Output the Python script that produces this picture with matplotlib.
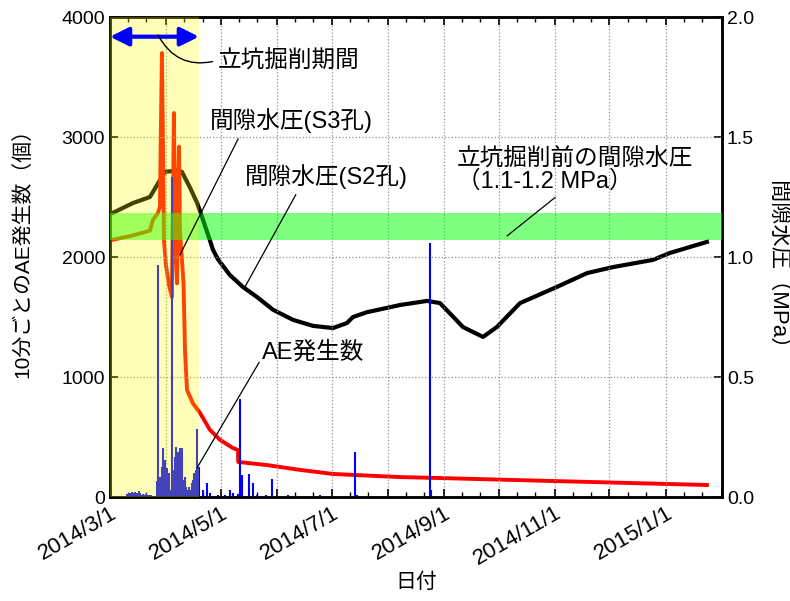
import numpy as np
import pandas as pd
import matplotlib
matplotlib.use('Agg')
import matplotlib.pyplot as plt
import matplotlib.dates as mdates
from matplotlib.ticker import FuncFormatter, MultipleLocator

plt.rcParams['font.family'] = ['Liberation Sans', 'Noto Sans CJK JP']

start = pd.Timestamp('2014-03-01')
end = pd.Timestamp('2015-02-01')

# pore pressure, borehole S2 (black) : days since 2014/3/1, MPa
s2_day = [0.5, 12.7, 22, 27.5, 30.3, 36.9, 39.6, 44, 48, 51.2, 55, 56.7, 59.5,
          66, 73.2, 81, 89.8, 100.8, 111.8, 122.8, 130.5, 133.8, 141.5, 152.5,
          159.7, 174.6, 181.7, 194.4, 205.4, 213, 225.8, 246, 262.7, 277, 299,
          308.4, 328.7]
s2_mpa = [1.18, 1.225, 1.25, 1.32, 1.355, 1.36, 1.355, 1.29, 1.225, 1.155, 1.07,
          1.03, 0.99, 0.925, 0.875, 0.833, 0.78, 0.738, 0.713, 0.704, 0.725, 0.75,
          0.77, 0.788, 0.80, 0.817, 0.808, 0.708, 0.667, 0.708, 0.808, 0.875,
          0.933, 0.958, 0.988, 1.017, 1.063]

# pore pressure, borehole S3 (red)
s3_day = [0.5, 12.7, 22, 23.7, 26.4, 27.5, 28, 28.6, 29.2, 29.7, 30.8, 32.5,
          34.1, 34.7, 35.2, 35.8, 36.9, 37.4, 38, 38.5, 39.6, 40.5, 41.3, 42.4,
          45.7, 49.6, 55, 60.6, 67.7, 70.5, 70.6, 86.5, 104.6, 122.8, 159.7,
          181.7, 242, 328.7]
s3_mpa = [1.07, 1.09, 1.11, 1.155, 1.183, 1.21, 1.53, 1.85, 1.446, 1.07, 0.967,
          0.883, 0.833, 1.24, 1.60, 1.11, 0.89, 1.24, 1.46, 1.11, 0.99, 0.89,
          0.61, 0.446, 0.39, 0.35, 0.28, 0.238, 0.204, 0.196, 0.146, 0.133,
          0.113, 0.096, 0.083, 0.079, 0.067, 0.05]

# AE count per 10 minutes
ae_day = [9.5, 10.2, 10.9, 11.6, 12.3, 13.0, 13.7, 14.4, 15.1, 15.8, 16.5, 17.2,
          17.9, 18.6, 19.3, 20.0, 20.7, 21.4, 22.1, 22.8,
          25.9, 26.6, 27.5, 28.4, 29.0, 29.7, 30.5, 31.2, 31.9, 32.6, 33.4, 33.9,
          34.8, 35.6, 36.2, 36.9, 37.6, 38.4, 39.1, 39.8, 40.5, 41.3, 42.0, 42.8,
          43.5, 44.2, 45.0, 45.7, 46.4, 47.2, 48.0, 48.8,
          51.2, 53.4, 55, 59.5, 63.3, 66, 67.7, 70.5, 71.6, 72.5, 76.5, 78.7,
          81, 86, 89.2, 98, 110, 115.6, 135, 136, 148.7, 176.2, 176.7]
ae_count = [25, 30, 20, 35, 40, 30, 45, 25, 35, 50, 30, 20, 25, 15, 20, 25, 15, 20, 15, 20,
            130, 1930, 170, 250, 405, 225, 310, 240, 140, 200, 60, 2670,
            225, 335, 415, 335, 375, 405, 280, 405, 140, 170, 85, 60,
            85, 60, 115, 140, 200, 225, 565, 250,
            60, 115, 30, 15, 20, 60, 30, 25, 815, 185, 190, 115,
            20, 15, 150, 15, 10, 15, 375, 20, 10, 2115, 60]


def to_date(days):
    return start + pd.to_timedelta(np.asarray(days, dtype=float), unit='D')


fig = plt.figure(figsize=(7.9, 6.01), dpi=100)
ax = fig.add_subplot(111)
fig.subplots_adjust(left=110/790, right=722/790, top=1-17/601, bottom=1-497/601)
ax2 = ax.twinx()

# pressure lines on right axis
ax2.plot(to_date(s2_day), s2_mpa, color='black', lw=3)
ax2.plot(to_date(s3_day), s3_mpa, color='#ff0000', lw=2.8)
ax2.set_ylim(0, 2.0)
ax2.yaxis.set_major_locator(MultipleLocator(0.5))
ax2.yaxis.set_major_formatter(FuncFormatter(lambda v, p: f'{v:.1f}'))
ax2.tick_params(axis='y', direction='in', length=6, width=1.2, labelsize=14)

# AE bars on left axis, drawn above the lines
ax.set_zorder(ax2.get_zorder() + 1)
ax.patch.set_visible(False)
ax.vlines(to_date(ae_day), 0, ae_count, color='#0000ff', lw=1.5)
ax.set_ylim(0, 4000)
ax.set_xlim(start, end)
ax.yaxis.set_major_locator(MultipleLocator(1000))

ax.xaxis.set_major_locator(mdates.MonthLocator())
ax.xaxis.set_minor_locator(mdates.DayLocator(bymonthday=[11, 21]))


def date_fmt(x, pos):
    d = mdates.num2date(x)
    return f'{d.year}/{d.month}/{d.day}' if d.month % 2 == 1 else ''


ax.xaxis.set_major_formatter(FuncFormatter(date_fmt))
ax.tick_params(axis='both', which='major', direction='in', length=6, width=1.2,
               labelsize=14, top=True)
ax.tick_params(axis='x', which='major', labelsize=16, pad=4)
ax.tick_params(axis='x', which='minor', direction='in', length=3.5, width=1, top=True)
ax.tick_params(axis='x', labelrotation=30)
for lab in ax.get_xticklabels():
    lab.set_ha('right')
    lab.set_rotation_mode('anchor')

ax.grid(True, which='major', linestyle=':', color='#909090', lw=0.9)
for a in (ax, ax2):
    for sp in a.spines.values():
        sp.set_linewidth(1.8)

# shaded bands
ax.axvspan(start, to_date(49), color='#ffff00', alpha=0.27, lw=0, zorder=5)
ax.axhspan(2140, 2366, color='#00ff00', alpha=0.5, lw=0, zorder=4)

# excavation period arrow
ax.annotate('', xy=(to_date(0), 3836), xytext=(to_date(49), 3836),
            arrowprops=dict(arrowstyle='<|-|>', color='#0000ff', lw=3,
                            mutation_scale=28, shrinkA=0, shrinkB=0), zorder=7)

afs = 17
ax.annotate('立坑掘削期間', xy=(to_date(26.4), 3850), xytext=(to_date(59.5), 3640),
            fontsize=afs, ha='left', va='center', zorder=7,
            arrowprops=dict(arrowstyle='-', color='black', lw=1, relpos=(0, 0.5),
                            shrinkA=2, shrinkB=0, connectionstyle='arc3,rad=-0.4'))
ax.annotate('間隙水圧(S3孔)', xy=(to_date(38.5), 2017), xytext=(to_date(55), 3133),
            fontsize=afs, ha='left', va='center', zorder=7,
            arrowprops=dict(arrowstyle='-', color='black', lw=0.9, relpos=(0.19, 0),
                            shrinkA=2, shrinkB=0))
ax.annotate('間隙水圧(S2孔)', xy=(to_date(74.3), 1750), xytext=(to_date(74.3), 2667),
            fontsize=afs, ha='left', va='center', zorder=7,
            arrowprops=dict(arrowstyle='-', color='black', lw=0.9, relpos=(0.33, 0),
                            shrinkA=2, shrinkB=0))
ax.annotate('立坑掘削前の間隙水圧\n（1.1-1.2 MPa）', xy=(to_date(218.6), 2175),
            xytext=(to_date(191), 2725), fontsize=afs, ha='left', va='center',
            linespacing=1.05, zorder=7,
            arrowprops=dict(arrowstyle='-', color='black', lw=0.9, relpos=(0.44, 0),
                            shrinkA=2, shrinkB=0))
ax.annotate('AE発生数', xy=(to_date(47.9), 242), xytext=(to_date(83.7), 1200),
            fontsize=afs, ha='left', va='center', zorder=7,
            arrowprops=dict(arrowstyle='-', color='black', lw=0.9, relpos=(0, 0.3),
                            shrinkA=0, shrinkB=0))

fig.text(22/790, 1-248/601, '10分ごとのAE発生数（個）', rotation=90, fontsize=15,
         ha='center', va='center')
fig.text(777/790, 1-271/601, '間隙水圧（MPa）', rotation=270, fontsize=16,
         ha='center', va='center')
fig.text(416/790, 1-582/601, '日付', fontsize=15, ha='center', va='center')

fig.savefig('out.png', dpi=100)
